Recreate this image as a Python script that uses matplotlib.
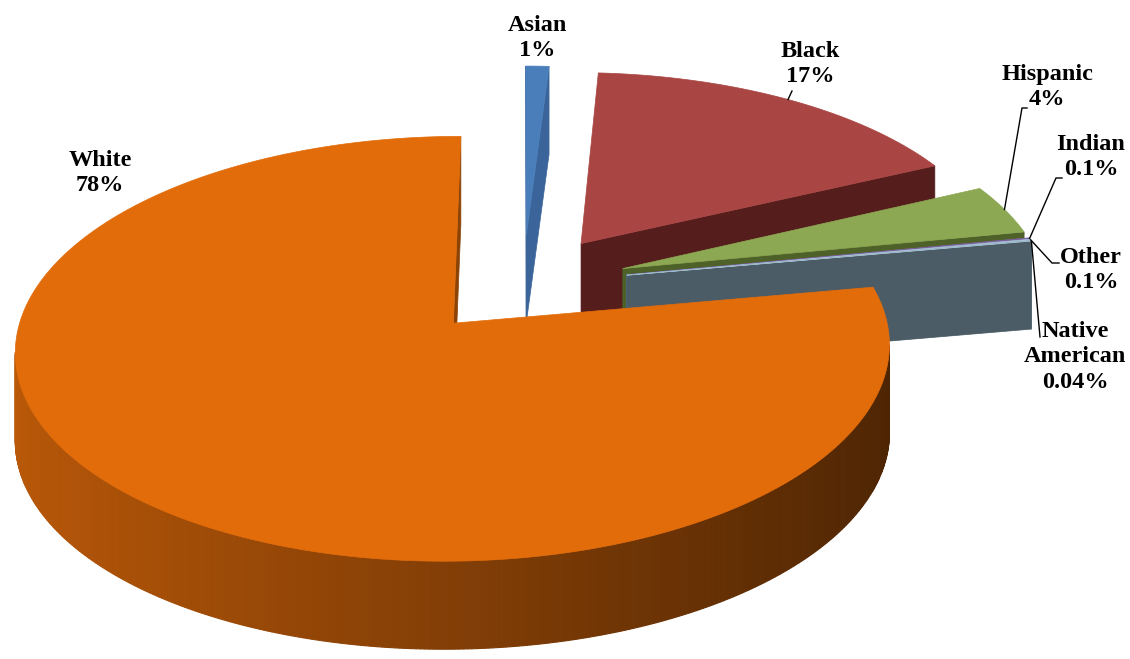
import numpy as np
import matplotlib.pyplot as plt
from matplotlib.patches import Polygon

# slices, clockwise from 12 o'clock
categories = ['Asian', 'Black', 'Hispanic', 'Indian', 'Other', 'Native\nAmerican', 'White']
values = [1, 17, 4, 0.1, 0.1, 0.04, 78]
pct_text = ['1%', '17%', '4%', '0.1%', '0.1%', '0.04%', '78%']

top_colors = ['#4A7EBB', '#A94643', '#8CA853', '#7E62A1', '#A8C6DA', '#9FB8C8', '#E36C0A']
side_colors = ['#3B659A', '#561D1D', '#4E6128', '#4A3A60', '#3F8FA5', '#4B5C66', '#8C4306']

# label centres (pixels) and leader bend points
label_pos = [(537, 38), (810, 64), (1047, 87), (1091, 157), (1091, 270), (1075, 357), (100, 173)]
leaders = [
    None,
    [(792, 91)],
    [(1022, 108), (1027, 108)],
    [(1056, 178), (1062, 178)],
    [(1052, 263), (1059, 263)],
    [(1040, 337)],
    None,
]

W, HPX = 1130, 659
CX, CY, RX, RY, DIST, DEPTH, EXPLODE = 523, 284, 424, 200, 8.5, 88, 0.25

fig = plt.figure(figsize=(11.3, 6.59), dpi=100)
ax = fig.add_axes([0, 0, 1, 1])
ax.set_xlim(0, W)
ax.set_ylim(HPX, 0)
ax.axis('off')


def project(X, Z, h=0.0):
    s = DIST / (DIST + Z)
    return CX + RX * X * s, CY - RY * Z * s + DEPTH * h


def cross(t1, t2, b1):
    return (t2[0] - t1[0]) * (b1[1] - t1[1]) - (t2[1] - t1[1]) * (b1[0] - t1[0])


def shade(hexcol, f):
    c = np.array([int(hexcol[i:i + 2], 16) for i in (1, 3, 5)]) / 255.0
    return tuple(np.clip(c * f, 0, 1))


vals = np.array(values, dtype=float)
edges = np.concatenate([[0], np.cumsum(vals)]) / vals.sum() * 2 * np.pi
mids = (edges[:-1] + edges[1:]) / 2
order = np.argsort(-np.cos(mids))

z = 1
anchors = {}
for i in order:
    th0, th1, mid = edges[i], edges[i + 1], mids[i]
    ox, oz = EXPLODE * np.sin(mid), EXPLODE * np.cos(mid)
    n = max(3, int(np.degrees(th1 - th0) * 2) + 2)
    ts = np.linspace(th0, th1, n)
    ax_, az_ = ox + np.sin(ts), oz + np.cos(ts)
    tx, ty = project(ax_, az_, 0)
    bx, by = project(ax_, az_, 1)
    apt = project(ox, oz, 0)
    apb = project(ox, oz, 1)
    anchors[i] = project(ox + np.sin(mid), oz + np.cos(mid), 0)

    # radial walls
    walls = [
        (apt, (tx[0], ty[0]), (bx[0], by[0]), apb),
        ((tx[-1], ty[-1]), apt, apb, (bx[-1], by[-1])),
    ]
    for t1, t2, b2, b1 in walls:
        if cross(t1, t2, b1) < 0:
            ax.add_patch(Polygon([t1, t2, b2, b1], closed=True, facecolor=side_colors[i],
                                 edgecolor=side_colors[i], lw=0.5, zorder=z))
    z += 1
    # outer wall, shaded by angle
    for k in range(n - 1):
        t1, t2 = (tx[k], ty[k]), (tx[k + 1], ty[k + 1])
        b1, b2 = (bx[k], by[k]), (bx[k + 1], by[k + 1])
        if cross(t1, t2, b1) < 0:
            th = (ts[k] + ts[k + 1]) / 2
            if categories[i] == 'White':
                col = shade(top_colors[i], 0.58 - 0.24 * np.sin(th))
            else:
                col = side_colors[i]
            ax.add_patch(Polygon([t1, t2, b2, b1], closed=True, facecolor=col,
                                 edgecolor=col, lw=0.8, zorder=z))
    z += 1
    # top face
    pts = [apt] + list(zip(tx, ty))
    ax.add_patch(Polygon(pts, closed=True, facecolor=top_colors[i],
                         edgecolor=top_colors[i], lw=0.5, zorder=z))
    z += 1

font = dict(family='Liberation Serif', weight='bold', size=17.5, color='black')
for i, name in enumerate(categories):
    lx, ly = label_pos[i]
    ax.text(lx, ly, name + '\n' + pct_text[i], ha='center', va='center',
            linespacing=1.3, zorder=50, **font)
    if leaders[i] is not None:
        sx, sy = anchors[i]
        xs = [sx] + [p[0] for p in leaders[i]]
        ys = [sy] + [p[1] for p in leaders[i]]
        ax.plot(xs, ys, color='black', lw=1, zorder=49)

fig.savefig('out.png', dpi=100)
